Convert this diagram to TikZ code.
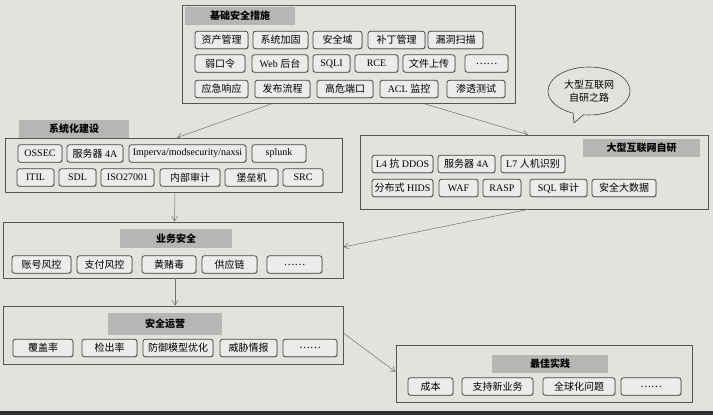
\documentclass[tikz,border=0pt]{standalone}
\usepackage{fontspec}
\setmainfont{Liberation Serif}
\newfontfamily\cjk{Noto Sans CJK SC}
\usetikzlibrary{arrows.meta,shadows,shapes.callouts}
\definecolor{paper}{RGB}{226,226,223}
\definecolor{itemfill}{RGB}{236,236,234}
\definecolor{framec}{RGB}{85,85,85}
\definecolor{tabc}{RGB}{182,182,180}
\tikzset{
  frame/.style={draw=framec,line width=0.7pt,inner sep=0pt},
  itm/.style={draw=black!72,fill=itemfill,rounded corners=2.5pt,line width=0.8pt,
    inner sep=0pt,minimum height=17.5pt,font=\fontsize{10}{12}\selectfont,
    drop shadow={shadow xshift=0.7pt,shadow yshift=-0.7pt,fill=black!45,opacity=0.6}},
  zh/.style={font=\cjk\fontsize{10}{12}\selectfont},
  tab/.style={fill=tabc,inner sep=0pt,font=\cjk\bfseries\fontsize{10}{12}\selectfont},
  arr/.style={draw=black!55,line width=0.5pt,-{Straight Barb[length=5pt,width=6pt]}}
}
\begin{document}
\begin{tikzpicture}[x=1pt,y=-1pt]
\fill[paper] (0,0) rectangle (713,415);
\fill[black!80] (0,411) rectangle (713,415);
\useasboundingbox (0,0) rectangle (713,415);

% ---- frames ----
\node[frame,minimum width=333pt,minimum height=98pt] (top) at (348.5,54) {};
\node[frame,minimum width=337pt,minimum height=54pt] (sys) at (173.5,165) {};
\node[frame,minimum width=348pt,minimum height=74pt] (big) at (534,172) {};
\node[frame,minimum width=340pt,minimum height=56pt] (biz) at (173,250) {};
\node[frame,minimum width=340pt,minimum height=58pt] (ops) at (173,335) {};
\node[frame,minimum width=296pt,minimum height=57pt] (best) at (544,373.5) {};

% ---- titles ----
\node[tab,minimum width=110pt,minimum height=18pt] (ttop) at (240,16) {基础安全措施};
\node[tab,minimum width=110pt,minimum height=18pt] (tsys) at (74,129) {系统化建设};
\node[tab,minimum width=117pt,minimum height=18pt] (tbig) at (641.5,148) {大型互联网自研};
\node[tab,minimum width=112pt,minimum height=19pt] (tbiz) at (176,238.5) {业务安全};
\node[tab,minimum width=114pt,minimum height=22pt] (tops) at (165,324) {安全运营};
\node[tab,minimum width=116pt,minimum height=18pt] (tbest) at (550,364) {最佳实践};

% ---- top items ----
\node[itm,zh,minimum width=53pt] (a1) at (221.5,40) {资产管理};
\node[itm,zh,minimum width=55pt] (a2) at (280.5,40) {系统加固};
\node[itm,zh,minimum width=49pt] (a3) at (337.5,40) {安全域};
\node[itm,zh,minimum width=57pt] (a4) at (396.5,40) {补丁管理};
\node[itm,zh,minimum width=55pt] (a5) at (455.5,40) {漏洞扫描};
\node[itm,zh,minimum width=50pt] (b1) at (220,63.5) {弱口令};
\node[itm,minimum width=56pt] (b2) at (280,63.5) {Web {\cjk 后台}};
\node[itm,minimum width=37pt] (b3) at (331.5,63.5) {SQLI};
\node[itm,minimum width=43pt] (b4) at (376.5,63.5) {RCE};
\node[itm,zh,minimum width=52pt] (b5) at (429,63.5) {文件上传};
\node[itm,zh,minimum width=43pt] (b6) at (486.5,63.5) {……};
\node[itm,zh,minimum width=53pt] (c1) at (221.5,89) {应急响应};
\node[itm,zh,minimum width=55pt] (c2) at (282.5,89) {发布流程};
\node[itm,zh,minimum width=56pt] (c3) at (345,89) {高危端口};
\node[itm,minimum width=58pt] (c4) at (409,89) {ACL {\cjk 监控}};
\node[itm,zh,minimum width=58pt] (c5) at (476,89) {渗透测试};

% ---- sys items ----
\node[itm,minimum width=44pt] (s1) at (40,153.5) {OSSEC};
\node[itm,minimum width=56pt] (s2) at (95,153.5) {{\cjk 服务器} 4A};
\node[itm,minimum width=117pt] (s3) at (187.5,153.5) {Imperva/modsecurity/naxsi};
\node[itm,minimum width=54pt] (s4) at (279,153.5) {splunk};
\node[itm,minimum width=37pt] (s5) at (35.5,177.5) {ITIL};
\node[itm,minimum width=37pt] (s6) at (77.5,177.5) {SDL};
\node[itm,minimum width=53pt] (s7) at (127.5,177.5) {ISO27001};
\node[itm,zh,minimum width=60pt] (s8) at (190,177.5) {内部审计};
\node[itm,zh,minimum width=53pt] (s9) at (251.5,177.5) {堡垒机};
\node[itm,minimum width=40pt] (s10) at (303,177.5) {SRC};

% ---- big items ----
\node[itm,minimum width=61pt] (g1) at (402.5,164) {L4 {\cjk 抗} DDOS};
\node[itm,minimum width=57pt] (g2) at (466.5,164) {{\cjk 服务器} 4A};
\node[itm,minimum width=64pt] (g3) at (533,164) {L7 {\cjk 人机识别}};
\node[itm,minimum width=61pt] (g4) at (402.5,188) {{\cjk 分布式} HIDS};
\node[itm,minimum width=39pt] (g5) at (458.5,188) {WAF};
\node[itm,minimum width=38pt] (g6) at (502,188) {RASP};
\node[itm,minimum width=57pt] (g7) at (558.5,188) {SQL {\cjk 审计}};
\node[itm,zh,minimum width=64pt] (g8) at (624,188) {安全大数据};

% ---- biz items ----
\node[itm,zh,minimum width=59pt] (z1) at (41.5,264.5) {账号风控};
\node[itm,zh,minimum width=55pt] (z2) at (104.5,264.5) {支付风控};
\node[itm,zh,minimum width=54pt] (z3) at (169,264.5) {黄赌毒};
\node[itm,zh,minimum width=55pt] (z4) at (229.5,264.5) {供应链};
\node[itm,zh,minimum width=55pt] (z5) at (294.5,264.5) {……};

% ---- ops items ----
\node[itm,zh,minimum width=60pt] (o1) at (43,348) {覆盖率};
\node[itm,zh,minimum width=55pt] (o2) at (109.5,348) {检出率};
\node[itm,zh,minimum width=70pt] (o3) at (178,348) {防御模型优化};
\node[itm,zh,minimum width=57pt] (o4) at (248.5,348) {威胁情报};
\node[itm,zh,minimum width=54pt] (o5) at (310,348) {……};

% ---- best items ----
\node[itm,zh,minimum width=45pt] (p1) at (430.5,386.5) {成本};
\node[itm,zh,minimum width=71pt] (p2) at (497.5,386.5) {支持新业务};
\node[itm,zh,minimum width=72pt] (p3) at (579,386.5) {全球化问题};
\node[itm,zh,minimum width=60pt] (p4) at (651,386.5) {……};

% ---- bubble ----
\coordinate (tail) at (574,123);
\node[ellipse callout,draw=black!75,line width=0.6pt,minimum width=82pt,minimum height=48pt,
  inner sep=0pt,align=center,callout absolute pointer={(tail)},
  font=\cjk\fontsize{10}{13}\selectfont] (bubble) at (589,91) {大型互联网\\自研之路};

% ---- arrows ----
\draw[arr] ([xshift=-75.5pt]top.south) -- ([xshift=3.5pt]sys.north);
\draw[arr] ([xshift=74.5pt]top.south) -- ([xshift=-6pt]big.north);
\draw[arr] ([xshift=1.5pt]sys.south) -- ([xshift=1.5pt]biz.north);
\draw[arr] ([xshift=-6pt]big.south) -- ([yshift=3pt]biz.east);
\draw[arr] ([xshift=2pt]biz.south) -- ([xshift=2pt]ops.north);
\draw[arr] ([yshift=2pt]ops.east) -- ([yshift=1.5pt]best.west);
\end{tikzpicture}
\end{document}
